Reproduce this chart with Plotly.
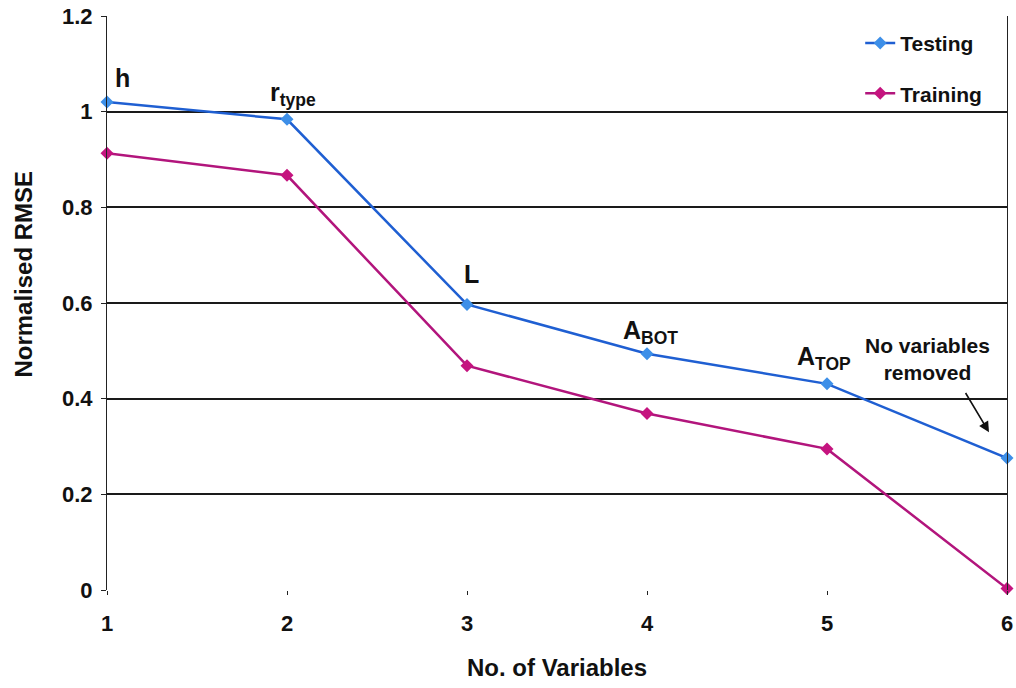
import plotly.graph_objects as go

num_vars = [1, 2, 3, 4, 5, 6]
testing = [1.02, 0.984, 0.597, 0.494, 0.431, 0.276]
training = [0.913, 0.867, 0.469, 0.369, 0.295, 0.003]
y_ticks = [0, 0.2, 0.4, 0.6, 0.8, 1, 1.2]
y_tick_text = ["0", "0.2", "0.4", "0.6", "0.8", "1", "1.2"]
labels = ["h", "r<sub>type</sub>", "L", "A<sub>BOT</sub>", "A<sub>TOP</sub>"]

FONT = "Liberation Sans, Arial, sans-serif"

fig = go.Figure()
fig.add_trace(go.Scatter(
    x=num_vars, y=testing, name="<b>Testing</b>", mode="lines+markers",
    legendgroup="a",
    line=dict(color="#1f5fd2", width=2.5),
    marker=dict(symbol="diamond", size=10, color="#3d8fe8"),
    cliponaxis=False,
))
fig.add_trace(go.Scatter(
    x=num_vars, y=training, name="<b>Training</b>", mode="lines+markers",
    legendgroup="b",
    line=dict(color="#b2157c", width=2.5),
    marker=dict(symbol="diamond", size=10, color="#c5147f"),
    cliponaxis=False,
))

# point labels (pixel offsets from the testing points)
shifts = [(15, 24), (6, 25), (4, 30), (3, 22), (-3, 26)]
for i, lab in enumerate(labels):
    dx, dy = shifts[i]
    fig.add_annotation(
        x=num_vars[i], y=testing[i], text="<b>" + lab + "</b>",
        showarrow=False, xshift=dx, yshift=dy,
        font=dict(family=FONT, size=25, color="#111"),
        xanchor="center", yanchor="middle",
    )

fig.add_annotation(
    x=5.56, y=0.482, text="<b>No variables<br>removed</b>", showarrow=False,
    font=dict(family=FONT, size=21, color="#111"), align="center",
)
fig.add_annotation(
    x=5.9, y=0.33, ax=5.765, ay=0.415, xref="x", yref="y", axref="x", ayref="y",
    text="", showarrow=True, arrowhead=2, arrowsize=1.3, arrowwidth=1.6, arrowcolor="#111",
)

# axis titles
fig.add_annotation(
    xref="paper", yref="paper", x=0.5, y=-0.135, text="<b>No. of Variables</b>",
    showarrow=False, xanchor="center", yanchor="middle",
    font=dict(family=FONT, size=24, color="#111"),
)
fig.add_annotation(
    xref="paper", yref="paper", x=-0.093, y=0.55, text="<b>Normalised RMSE</b>",
    showarrow=False, textangle=-90, xanchor="center", yanchor="middle",
    font=dict(family=FONT, size=24, color="#111"),
)

fig.update_layout(
    width=1016, height=688,
    margin=dict(l=107, r=9, t=16, b=98, autoexpand=False),
    paper_bgcolor="white", plot_bgcolor="white",
    showlegend=True,
    legend=dict(
        x=0.978, y=0.988, xanchor="right", yanchor="top",
        font=dict(family=FONT, size=21, color="#111"),
        bgcolor="rgba(0,0,0,0)", tracegroupgap=20,
    ),
    xaxis=dict(
        range=[1, 6], tickmode="array", tickvals=num_vars,
        ticktext=["<b>%d</b>" % v for v in num_vars],
        tickfont=dict(family=FONT, size=22, color="#111"),
        ticks="outside", ticklen=4, tickcolor="#222",
        ticklabelstandoff=10, automargin=False,
        showgrid=False, zeroline=False, showline=False,
    ),
    yaxis=dict(
        range=[0, 1.2], tickmode="array", tickvals=y_ticks,
        ticktext=["<b>%s</b>" % t for t in y_tick_text],
        tickfont=dict(family=FONT, size=22, color="#111"),
        ticks="outside", ticklen=5, tickcolor="#222", automargin=False,
        ticklabelstandoff=4,
        showgrid=True, gridcolor="#1a1a1a", gridwidth=1.5,
        zeroline=False, showline=True, linecolor="#222", linewidth=1.2, mirror=True,
    ),
)
fig.write_html(
    "out.html",
    config={"displayModeBar": False},
    post_script="document.body.style.margin='0';document.body.style.overflow='hidden';",
)
